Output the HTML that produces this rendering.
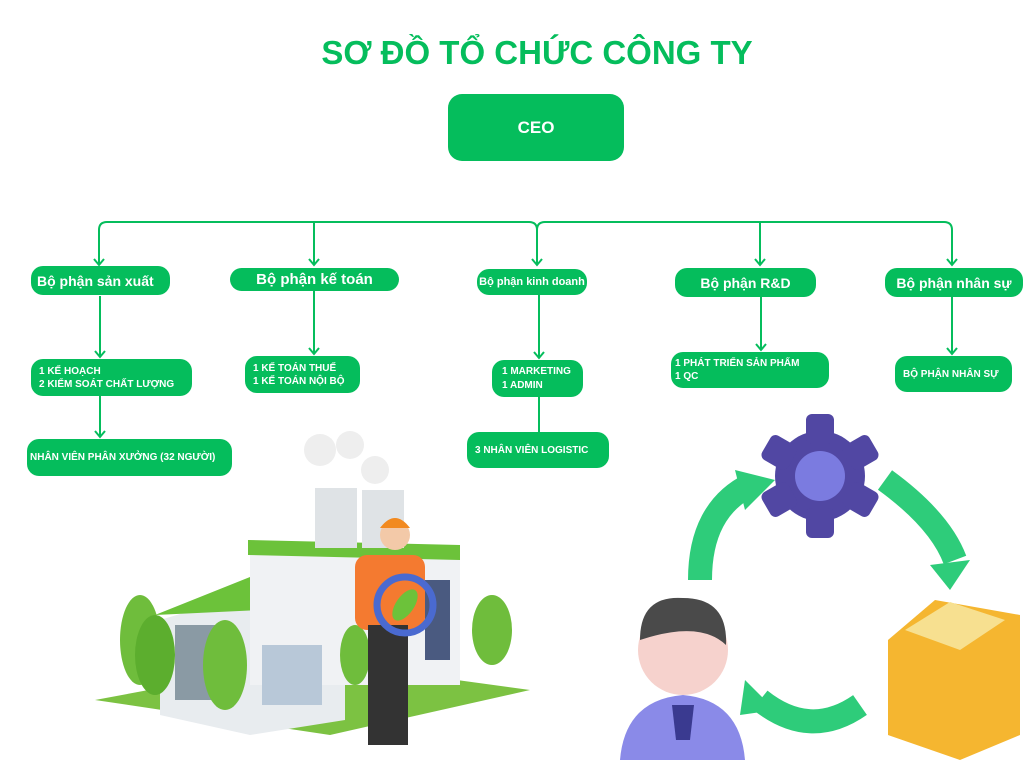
<!DOCTYPE html>
<html><head><meta charset="utf-8"><style>
body{margin:0;width:1024px;height:768px;background:#fff;position:relative;overflow:hidden;font-family:"Liberation Sans","DejaVu Sans",sans-serif}
.b{position:absolute;background:#05bd5c;color:#fff;font-weight:bold;border-radius:12px;display:flex;align-items:center;box-sizing:border-box}
.c{justify-content:center}
.s{font-size:10px;line-height:13px;padding-left:8px}
</style></head><body>
<div style="position:absolute;left:0;width:1074px;top:34px;text-align:center;font-size:33px;font-weight:bold;color:#05bd5c">SƠ ĐỒ TỔ CHỨC CÔNG TY</div>
<div class="b c" style="left:448px;top:94px;width:176px;height:67px;font-size:17px;border-radius:14px">CEO</div>
<svg width="1024" height="768" style="position:absolute;left:0;top:0" fill="none" stroke="#05bd5c" stroke-width="2">
<path d="M99 265 V230 Q99 222 107 222 H529 Q537 222 537 230 Q537 222 545 222 H944 Q952 222 952 230 V265"/>
<path d="M314 222 V265 M760 222 V265 M537 230 V265"/>
<path d="M100 296 V357 M314 291 V354 M539 295 V358 M761 297 V350 M952 297 V354 M100 396 V437 M539 397 V432"/>
<g stroke-width="2"><path d="M94 259 L99 265 L104 259 M309 259 L314 265 L319 259 M532 259 L537 265 L542 259 M755 259 L760 265 L765 259 M947 259 L952 265 L957 259"/>
<path d="M95 351 L100 357 L105 351 M309 348 L314 354 L319 348 M534 352 L539 358 L544 352 M756 344 L761 350 L766 344 M947 348 L952 354 L957 348 M95 431 L100 437 L105 431"/></g>
</svg>
<div class="b" style="left:31px;top:266px;width:139px;height:29px;font-size:14px;padding-left:6px">Bộ phận sản xuất</div>
<div class="b c" style="left:230px;top:268px;width:169px;height:23px;font-size:15px">Bộ phận kế toán</div>
<div class="b c" style="left:477px;top:269px;width:110px;height:26px;font-size:11px">Bộ phận kinh doanh</div>
<div class="b c" style="left:675px;top:268px;width:141px;height:29px;font-size:14px">Bộ phận R&amp;D</div>
<div class="b c" style="left:885px;top:268px;width:138px;height:29px;font-size:14px">Bộ phận nhân sự</div>
<div class="b s" style="left:31px;top:359px;width:161px;height:37px">1 KẾ HOẠCH<br>2 KIỂM SOÁT CHẤT LƯỢNG</div>
<div class="b s" style="left:245px;top:356px;width:115px;height:37px">1 KẾ TOÁN THUẾ<br>1 KẾ TOÁN NỘI BỘ</div>
<div class="b s" style="left:492px;top:360px;width:91px;height:37px;padding-left:10px;line-height:14px">1 MARKETING<br>1 ADMIN</div>
<div class="b s" style="left:671px;top:352px;width:158px;height:36px;padding-left:4px">1 PHÁT TRIỂN SẢN PHẨM<br>1 QC</div>
<div class="b s" style="left:895px;top:356px;width:117px;height:36px">BỘ PHẬN NHÂN SỰ</div>
<div class="b s" style="left:27px;top:439px;width:205px;height:37px;padding-left:3px">NHÂN VIÊN PHÂN XƯỞNG (32 NGƯỜI)</div>
<div class="b s" style="left:467px;top:432px;width:142px;height:36px">3 NHÂN VIÊN LOGISTIC</div>
<svg width="1024" height="768" style="position:absolute;left:0;top:0">
<polygon points="95,700 330,735 530,690 310,660" fill="#7cc242"/>
<polygon points="160,620 260,590 345,600 345,720 250,735 160,715" fill="#e8ecef"/>
<polygon points="155,615 255,575 345,590 260,610" fill="#6cc23a"/>
<rect x="250" y="545" width="210" height="140" fill="#f0f2f4"/>
<polygon points="248,540 460,545 460,560 248,555" fill="#6cc23a"/>
<rect x="315" y="488" width="42" height="60" fill="#dfe3e6"/><rect x="362" y="490" width="42" height="58" fill="#dfe3e6"/>
<circle cx="320" cy="450" r="16" fill="#eee"/><circle cx="350" cy="445" r="14" fill="#eee"/><circle cx="375" cy="470" r="14" fill="#eee"/>
<rect x="175" y="625" width="40" height="75" fill="#8a9aa4"/>
<rect x="262" y="645" width="60" height="60" fill="#b8c8d8"/>
<ellipse cx="140" cy="640" rx="20" ry="45" fill="#6fbd3c"/><ellipse cx="155" cy="655" rx="20" ry="40" fill="#5cae2e"/>
<ellipse cx="225" cy="665" rx="22" ry="45" fill="#6fbd3c"/>
<ellipse cx="492" cy="630" rx="20" ry="35" fill="#6fbd3c"/>
<ellipse cx="355" cy="655" rx="15" ry="30" fill="#6fbd3c"/>
<rect x="425" y="580" width="25" height="80" fill="#4a5a80"/>
<circle cx="395" cy="535" r="15" fill="#f3c9a8"/><path d="M380 528 Q395 508 410 528Z" fill="#f28a20"/>
<rect x="355" y="555" width="70" height="75" rx="12" fill="#f47a30"/>
<rect x="368" y="625" width="40" height="120" fill="#333"/>
<circle cx="405" cy="605" r="28" fill="none" stroke="#4a6ad0" stroke-width="7"/><ellipse cx="405" cy="605" rx="9" ry="18" fill="#6cc23a" transform="rotate(35 405 605)"/>
<path d="M700 580 Q700 510 750 485" stroke="#2ecc7a" stroke-width="24" fill="none"/>
<polygon points="735,470 775,480 745,510" fill="#2ecc7a"/>
<path d="M885 480 Q940 520 955 560" stroke="#2ecc7a" stroke-width="24" fill="none"/>
<polygon points="930,565 970,560 950,590" fill="#2ecc7a"/>
<path d="M860 705 Q810 740 760 700" stroke="#2ecc7a" stroke-width="24" fill="none"/>
<polygon points="745,680 740,715 775,710" fill="#2ecc7a"/>
<g fill="#5147a3"><circle cx="820" cy="476" r="45"/>
<g transform="translate(820 476)"><rect x="-14" y="-62" width="28" height="30" rx="6"/><rect x="-14" y="-62" width="28" height="30" rx="6" transform="rotate(60)"/><rect x="-14" y="-62" width="28" height="30" rx="6" transform="rotate(120)"/><rect x="-14" y="-62" width="28" height="30" rx="6" transform="rotate(180)"/><rect x="-14" y="-62" width="28" height="30" rx="6" transform="rotate(240)"/><rect x="-14" y="-62" width="28" height="30" rx="6" transform="rotate(300)"/></g></g>
<circle cx="820" cy="476" r="25" fill="#7b7be0"/>
<polygon points="888,640 935,600 1020,615 1020,735 960,760 888,735" fill="#f5b630"/>
<polygon points="905,630 950,602 1005,620 960,650" fill="#f7e090"/>
<circle cx="683" cy="650" r="45" fill="#f6d2cd"/><path d="M640 640 Q640 595 683 598 Q728 598 726 645 Q700 620 640 640Z" fill="#4a4a4a"/>
<path d="M620 760 Q625 700 683 695 Q740 700 745 760Z" fill="#8a8ae8"/>
<polygon points="672,705 694,705 690,740 676,740" fill="#3a3a90"/>
</svg>
</body></html>
